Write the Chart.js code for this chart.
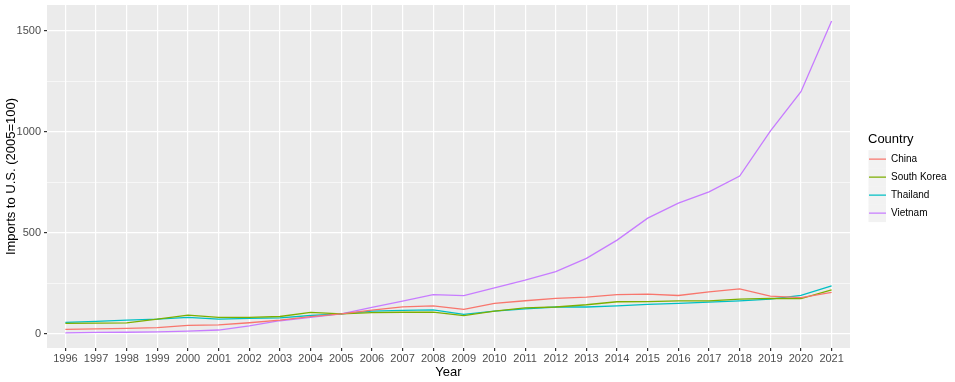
<!DOCTYPE html>
<html>
<head>
<meta charset="utf-8">
<script src="https://cdn.jsdelivr.net/npm/chart.js@4/dist/chart.umd.min.js"></script>
<style>
html,body{margin:0;padding:0;background:#fff;}
#wrap{width:955px;height:382px;position:relative;}
</style>
</head>
<body>
<div id="wrap"><canvas id="c" width="955" height="382"></canvas></div>
<script>
const years = [1996,1997,1998,1999,2000,2001,2002,2003,2004,2005,2006,2007,2008,2009,2010,2011,2012,2013,2014,2015,2016,2017,2018,2019,2020,2021];
const china = [23,26,28,32,43,45,56,69,86,100,119,135,140,122,152,165,177,183,195,198,191,209,224,188,180,206];
const southKorea = [53,54,55,74,94,83,83,87,107,100,106,108,109,91,114,130,134,145,160,161,164,164,173,177,175,219];
const thailand = [58,63,69,74,83,74,78,80,92,100,114,117,120,97,114,125,134,134,140,147,152,158,164,173,191,239];
const vietnam = [6,8,9,11,15,20,40,66,83,100,132,163,195,190,229,267,309,375,465,574,648,704,782,1005,1200,1550];
const yTicks = [0,250,500,750,1000,1250,1500];
const seriesNames = ['China','South Korea','Thailand','Vietnam'];
const seriesColors = ['#F8766D','#7CAE00','#00BFC4','#C77CFF'];
const seriesValues = [china, southKorea, thailand, vietnam];

const FONT = '"Liberation Sans", Arial, sans-serif';
const LEGEND_WIDTH = 105;
const LEGEND_CONTENT_LEFT = 869;
const LEGEND_TITLE_Y = 139;
const LEGEND_PAD = 8;

const panelBg = {
  id: 'panelBg',
  beforeUpdate(chart) {
    const L = chart.legend;
    if (L && !L._patched) {
      L._patched = true;
      const fit = L.fit;
      L.fit = function () { fit.call(this); this.width = LEGEND_WIDTH; };
      ['drawTitle', '_drawTitle'].forEach(name => {
        const orig = L[name];
        if (typeof orig === 'function') {
          L[name] = function () {
            this.ctx.save();
            this.ctx.translate(LEGEND_CONTENT_LEFT - 1 - this.left, 0);
            const r = orig.apply(this, arguments);
            this.ctx.restore();
            return r;
          };
        }
      });
    }
  },
  afterLayout(chart) {
    const L = chart.legend;
    if (!L) return;
    const dx = (LEGEND_CONTENT_LEFT - LEGEND_PAD) - L.left;
    const dy = (LEGEND_TITLE_Y - 6.5) - L.top;
    L.left += dx; L.right += dx; L.top += dy; L.bottom += dy;
  },
  beforeDraw(chart) {
    const {ctx, chartArea: a} = chart;
    ctx.save();
    ctx.fillStyle = '#EBEBEB';
    ctx.fillRect(a.left, a.top, a.right - a.left, a.bottom - a.top);
    const L = chart.legend;
    if (L && L.legendHitBoxes) {
      ctx.fillStyle = '#F2F2F2';
      L.legendHitBoxes.forEach(hb => {
        const cy = hb.top + hb.height / 2;
        ctx.fillRect(LEGEND_CONTENT_LEFT - 0.5, cy - 9, 17.5, 18);
      });
    }
    ctx.restore();
  }
};

const datasets = seriesNames.map((n, i) => ({
  label: n,
  data: years.map((y, j) => ({x: y, y: seriesValues[i][j]})),
  borderColor: seriesColors[i],
  backgroundColor: seriesColors[i],
  borderWidth: 1.3,
  pointRadius: 0,
  pointStyle: 'line',
  tension: 0,
  fill: false
}));

new Chart(document.getElementById('c'), {
  type: 'line',
  data: { datasets },
  plugins: [panelBg],
  options: {
    responsive: false,
    animation: false,
    layout: { padding: { top: 5, right: 0, bottom: 0, left: 0 } },
    scales: {
      x: {
        type: 'linear',
        min: 1995.4,
        max: 2021.6,
        afterBuildTicks: s => { s.ticks = years.map(v => ({value: v})); },
        afterFit: s => { s.height = 34; s.paddingLeft = 0; s.paddingRight = 0; },
        ticks: { color: '#4D4D4D', font: { family: FONT, size: 11 }, padding: 1, maxRotation: 0, autoSkip: false, callback: v => String(v) },
        grid: { color: '#FFFFFF', lineWidth: 1.2, tickColor: '#333333', tickLength: 3, drawTicks: true },
        border: { display: false },
        title: { display: true, text: 'Year', color: '#000', font: { family: FONT, size: 13 }, padding: { top: 0, bottom: 2 } }
      },
      y: {
        type: 'linear',
        min: -69,
        max: 1629,
        afterBuildTicks: s => { s.ticks = yTicks.map(v => ({value: v})); },
        afterFit: s => { s.width = 47; s.paddingTop = 0; s.paddingBottom = 0; },
        ticks: { color: '#4D4D4D', font: { family: FONT, size: 11 }, padding: 3, callback: v => (v % 500 === 0 ? String(v) : '') },
        grid: {
          color: '#FFFFFF',
          lineWidth: c => (c.tick && c.tick.value % 500 === 0 ? 1.2 : 0.6),
          tickColor: c => (c.tick && c.tick.value % 500 === 0 ? '#333333' : 'rgba(0,0,0,0)'),
          tickLength: 3
        },
        border: { display: false },
        title: { display: true, text: 'Imports to U.S. (2005=100)', color: '#000', font: { family: FONT, size: 13 }, padding: { top: 4, bottom: 0 } }
      }
    },
    plugins: {
      tooltip: { enabled: false },
      legend: {
        position: 'right',
        align: 'start',
        title: { display: true, position: 'start', text: 'Country', color: '#000', font: { family: FONT, size: 13 }, padding: { top: 0, bottom: -2 } },
        labels: {
          color: '#000',
          font: { family: FONT, size: 10 },
          usePointStyle: true,
          pointStyleWidth: 17,
          padding: LEGEND_PAD
        }
      }
    }
  }
});
</script>
</body>
</html>
